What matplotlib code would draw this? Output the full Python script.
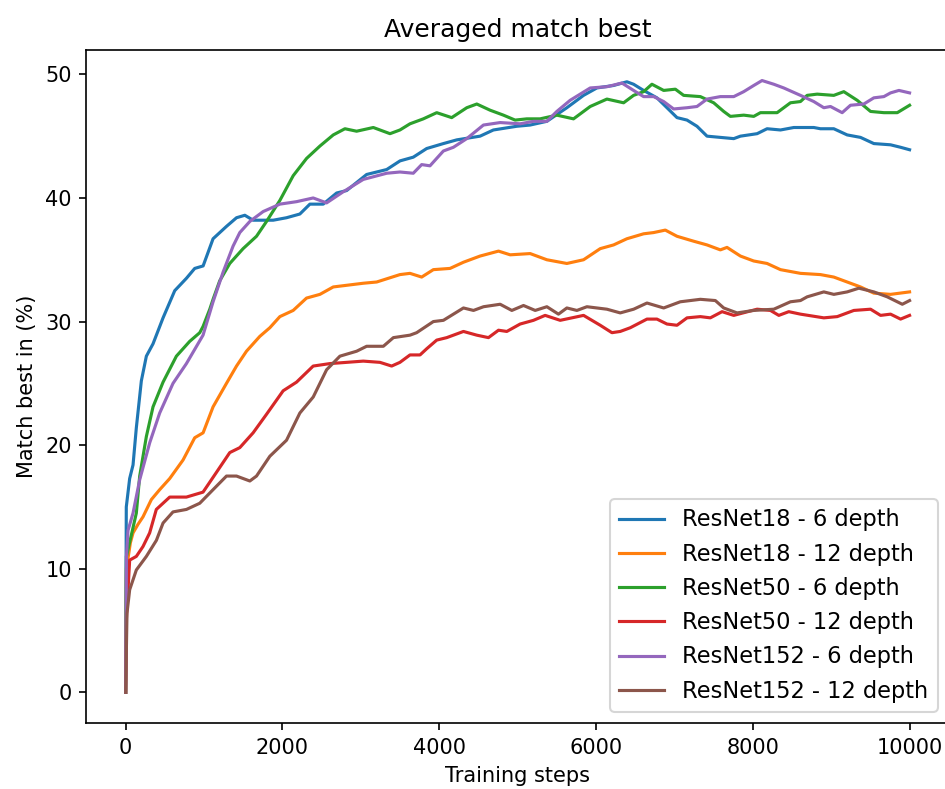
import numpy as np
import matplotlib
matplotlib.use('Agg')
import matplotlib.pyplot as plt

# (training step, match best %)
resnet18_6 = [(0, 0), (8, 15.0), (51, 17.3), (94, 18.4), (136, 21.4), (200, 25.2), (264, 27.2), (349, 28.2),
              (477, 30.3), (626, 32.5), (775, 33.5), (881, 34.3), (988, 34.5), (1115, 36.7), (1286, 37.7),
              (1414, 38.4), (1520, 38.6), (1626, 38.2), (1882, 38.2), (2052, 38.4), (2222, 38.7), (2350, 39.5),
              (2520, 39.5), (2691, 40.4), (2819, 40.6), (3074, 41.9), (3330, 42.3), (3500, 43.0), (3669, 43.3),
              (3840, 44.0), (4053, 44.4), (4224, 44.7), (4521, 45.0), (4691, 45.5), (4989, 45.8), (5160, 45.9),
              (5373, 46.2), (5628, 47.3), (5841, 48.3), (6011, 48.9), (6224, 49.1), (6394, 49.4), (6479, 49.2),
              (6607, 48.7), (6777, 48.1), (6905, 47.3), (7033, 46.5), (7161, 46.3), (7288, 45.8), (7416, 45.0),
              (7586, 44.9), (7757, 44.8), (7842, 45.0), (8055, 45.2), (8182, 45.6), (8353, 45.5), (8523, 45.7),
              (8778, 45.7), (8863, 45.6), (9033, 45.6), (9204, 45.1), (9374, 44.9), (9544, 44.4), (9757, 44.3),
              (9885, 44.1), (10000, 43.9)]

resnet18_12 = [(0, 0), (10, 10.0), (60, 12.1), (94, 12.9), (158, 13.6), (221, 14.2), (328, 15.6), (434, 16.4),
               (562, 17.3), (732, 18.8), (881, 20.6), (988, 21.0), (1115, 23.1), (1286, 25.0), (1414, 26.4),
               (1541, 27.6), (1711, 28.8), (1839, 29.5), (1967, 30.4), (2137, 30.9), (2307, 31.9), (2478, 32.2),
               (2648, 32.8), (2903, 33.0), (3031, 33.1), (3202, 33.2), (3499, 33.8), (3627, 33.9), (3776, 33.6),
               (3925, 34.2), (4138, 34.3), (4309, 34.8), (4521, 35.3), (4756, 35.7), (4905, 35.4), (5160, 35.5),
               (5373, 35.0), (5628, 34.7), (5841, 35.0), (6054, 35.9), (6224, 36.2), (6394, 36.7), (6607, 37.1),
               (6735, 37.2), (6884, 37.4), (7033, 36.9), (7246, 36.5), (7416, 36.2), (7586, 35.8), (7671, 36.0),
               (7842, 35.3), (8012, 34.9), (8182, 34.7), (8353, 34.2), (8608, 33.9), (8863, 33.8), (9033, 33.6),
               (9204, 33.2), (9374, 32.8), (9544, 32.3), (9757, 32.2), (10000, 32.4)]

resnet50_6 = [(0, 0), (10, 11.0), (136, 14.5), (179, 17.5), (264, 20.7), (349, 23.1), (477, 25.1), (647, 27.2),
              (817, 28.4), (945, 29.1), (987, 29.6), (1073, 31.0), (1115, 31.8), (1200, 33.3), (1328, 34.7),
              (1498, 35.9), (1669, 36.9), (1797, 38.1), (1967, 39.8), (2137, 41.8), (2308, 43.2), (2478, 44.2),
              (2648, 45.1), (2797, 45.6), (2946, 45.4), (3159, 45.7), (3372, 45.2), (3499, 45.5), (3627, 46.0),
              (3797, 46.4), (3968, 46.9), (4159, 46.5), (4351, 47.3), (4479, 47.6), (4649, 47.1), (4819, 46.7),
              (4968, 46.3), (5117, 46.4), (5287, 46.4), (5500, 46.7), (5713, 46.4), (5926, 47.4), (6139, 48.0),
              (6352, 47.7), (6479, 48.3), (6607, 48.6), (6713, 49.2), (6863, 48.7), (7012, 48.8), (7118, 48.3),
              (7331, 48.2), (7501, 47.7), (7629, 47.0), (7714, 46.6), (7884, 46.7), (8012, 46.6), (8097, 46.9),
              (8310, 46.9), (8480, 47.7), (8608, 47.8), (8693, 48.3), (8821, 48.4), (9033, 48.3), (9161, 48.6),
              (9332, 47.9), (9502, 47.0), (9672, 46.9), (9843, 46.9), (10000, 47.5)]

resnet50_12 = [(0, 0), (10, 6.0), (51, 10.7), (136, 11.0), (221, 11.8), (306, 12.9), (391, 14.8), (562, 15.8),
               (775, 15.8), (987, 16.2), (1158, 17.8), (1328, 19.4), (1456, 19.8), (1626, 21.0), (1797, 22.5),
               (2009, 24.4), (2180, 25.1), (2392, 26.4), (2605, 26.6), (2819, 26.7), (3031, 26.8), (3244, 26.7),
               (3393, 26.4), (3499, 26.7), (3627, 27.3), (3755, 27.3), (3840, 27.8), (3968, 28.5), (4096, 28.7),
               (4309, 29.2), (4479, 28.9), (4628, 28.7), (4756, 29.3), (4862, 29.2), (5032, 29.8), (5202, 30.1),
               (5351, 30.5), (5543, 30.1), (5841, 30.5), (6054, 29.7), (6203, 29.1), (6309, 29.2), (6437, 29.5),
               (6650, 30.2), (6777, 30.2), (6905, 29.8), (7033, 29.7), (7161, 30.3), (7331, 30.4), (7458, 30.3),
               (7608, 30.8), (7757, 30.5), (8055, 31.0), (8225, 30.9), (8332, 30.5), (8459, 30.8), (8608, 30.6),
               (8906, 30.3), (9077, 30.4), (9289, 30.9), (9502, 31.0), (9630, 30.5), (9757, 30.6), (9885, 30.2),
               (10000, 30.5)]

resnet152_6 = [(0, 0), (10, 11.0), (30, 13.1), (94, 14.5), (179, 17.2), (307, 20.2), (434, 22.6), (604, 25.0),
               (775, 26.6), (987, 28.9), (1115, 31.6), (1243, 34.0), (1370, 36.1), (1456, 37.2), (1584, 38.1),
               (1754, 38.9), (1967, 39.5), (2180, 39.7), (2392, 40.0), (2563, 39.6), (2775, 40.5), (3031, 41.5),
               (3330, 42.0), (3499, 42.1), (3669, 42.0), (3776, 42.7), (3882, 42.6), (4053, 43.8), (4181, 44.1),
               (4351, 44.8), (4564, 45.9), (4777, 46.1), (5032, 46.0), (5202, 46.2), (5373, 46.2), (5500, 47.0),
               (5670, 47.9), (5926, 48.9), (6139, 49.0), (6330, 49.3), (6479, 48.7), (6607, 48.2), (6735, 48.2),
               (6863, 47.8), (6990, 47.2), (7161, 47.3), (7288, 47.4), (7416, 48.0), (7586, 48.2), (7757, 48.2),
               (7884, 48.6), (8012, 49.1), (8118, 49.5), (8268, 49.2), (8395, 48.9), (8608, 48.3), (8778, 47.8),
               (8906, 47.3), (8991, 47.4), (9140, 46.9), (9246, 47.5), (9416, 47.6), (9544, 48.1), (9672, 48.2),
               (9757, 48.5), (9864, 48.7), (10000, 48.5)]

resnet152_12 = [(0, 0), (17, 6.4), (51, 8.3), (136, 9.9), (264, 11.0), (392, 12.3), (477, 13.7), (604, 14.6),
                (775, 14.8), (945, 15.3), (1115, 16.4), (1286, 17.5), (1414, 17.5), (1584, 17.1), (1669, 17.5),
                (1839, 19.1), (2052, 20.4), (2222, 22.6), (2393, 23.9), (2563, 26.1), (2733, 27.2), (2946, 27.6),
                (3074, 28.0), (3287, 28.0), (3415, 28.7), (3627, 28.9), (3712, 29.1), (3925, 30.0), (4053, 30.1),
                (4309, 31.1), (4437, 30.9), (4565, 31.2), (4777, 31.4), (4926, 30.9), (5075, 31.3), (5224, 30.9),
                (5373, 31.2), (5521, 30.6), (5628, 31.1), (5756, 30.9), (5884, 31.2), (6139, 31.0), (6309, 30.7),
                (6480, 31.0), (6650, 31.5), (6863, 31.1), (7075, 31.6), (7331, 31.8), (7522, 31.7), (7629, 31.1),
                (7799, 30.7), (8012, 30.9), (8268, 31.0), (8480, 31.6), (8608, 31.7), (8693, 32.0), (8906, 32.4),
                (9034, 32.2), (9204, 32.4), (9353, 32.7), (9544, 32.4), (9715, 32.0), (9907, 31.4), (10000, 31.7)]

series = [(resnet18_6, 'ResNet18 - 6 depth'),
          (resnet18_12, 'ResNet18 - 12 depth'),
          (resnet50_6, 'ResNet50 - 6 depth'),
          (resnet50_12, 'ResNet50 - 12 depth'),
          (resnet152_6, 'ResNet152 - 6 depth'),
          (resnet152_12, 'ResNet152 - 12 depth')]

fig = plt.figure(figsize=(6.3, 5.26), dpi=150)
ax = fig.add_axes([0.0915, 0.0837, 0.9125, 0.853])

for pts, name in series:
    d = np.array(pts)
    ax.plot(d[:, 0], d[:, 1], label=name)

ax.set_title('Averaged match best')
ax.set_xlabel('Training steps')
ax.set_ylabel('Match best in (%)')
ax.legend(loc='lower right', fontsize=10.8)

fig.savefig('out.png', dpi=150)
